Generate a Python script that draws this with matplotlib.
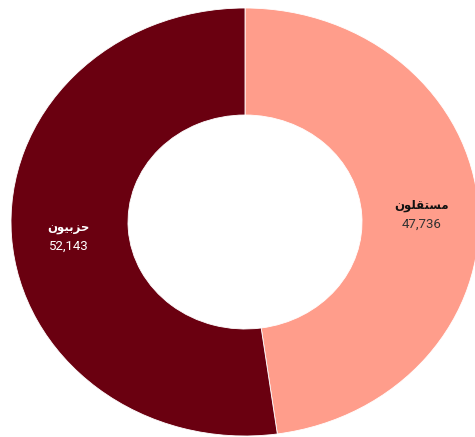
import numpy as np
import matplotlib
matplotlib.use('Agg')
import matplotlib.pyplot as plt

labels = ['مستقلون', 'حزبيون']
values = [47736, 52143]
colors = ['#FF9D8B', '#6A0010']
name_colors = ['#111111', 'white']
value_colors = ['#333333', 'white']

# contextual forms (isolated, final, initial, medial) for the letters used
FORMS = {
    'م': (0xFEE1, 0xFEE2, 0xFEE3, 0xFEE4),
    'س': (0xFEB1, 0xFEB2, 0xFEB3, 0xFEB4),
    'ت': (0xFE95, 0xFE96, 0xFE97, 0xFE98),
    'ق': (0xFED5, 0xFED6, 0xFED7, 0xFED8),
    'ل': (0xFEDD, 0xFEDE, 0xFEDF, 0xFEE0),
    'ن': (0xFEE5, 0xFEE6, 0xFEE7, 0xFEE8),
    'ح': (0xFEA1, 0xFEA2, 0xFEA3, 0xFEA4),
    'ب': (0xFE8F, 0xFE90, 0xFE91, 0xFE92),
    'ي': (0xFEF1, 0xFEF2, 0xFEF3, 0xFEF4),
    'و': (0xFEED, 0xFEEE, None, None),
    'ز': (0xFEAF, 0xFEB0, None, None),
}


def shape(word):
    out = []
    n = len(word)
    for i, ch in enumerate(word):
        f = FORMS[ch]
        prev_joins = i > 0 and FORMS[word[i - 1]][2] is not None
        next_joins = i < n - 1 and f[2] is not None
        if prev_joins and next_joins:
            code = f[3]
        elif prev_joins:
            code = f[1]
        elif next_joins:
            code = f[2]
        else:
            code = f[0]
        out.append(chr(code))
    return ''.join(reversed(out))


fig = plt.figure(figsize=(4.75, 4.37), dpi=100)
ax = fig.add_axes([0, 0, 1, 1])

wedges, _ = ax.pie(values, colors=colors, startangle=90, counterclock=False,
                   radius=1.0, wedgeprops=dict(width=0.5, edgecolor='white', linewidth=0.6))

# stretched frame: the ring is wider than tall and runs off the right/bottom
ax.set_aspect('auto')
ax.set_xlim(-245 / 234, -245 / 234 + 475 / 234)
ax.set_ylim(222 / 214 - 437 / 214, 222 / 214)
ax.axis('off')

fam = ['Roboto', 'DejaVu Sans']
for w, lab, val, nc, vc in zip(wedges, labels, values, name_colors, value_colors):
    ang = np.deg2rad((w.theta1 + w.theta2) / 2)
    x, y = 0.755 * np.cos(ang), 0.755 * np.sin(ang)
    ax.annotate(shape(lab), (x, y), xytext=(0, 3.5), textcoords='offset points',
                ha='center', va='center', fontsize=8.5, fontweight='bold',
                color=nc, family=fam)
    ax.annotate(f'{val:,}', (x, y), xytext=(0, -9.5), textcoords='offset points',
                ha='center', va='center', fontsize=9.5, color=vc, family=fam)

fig.savefig('out.png', dpi=100)
